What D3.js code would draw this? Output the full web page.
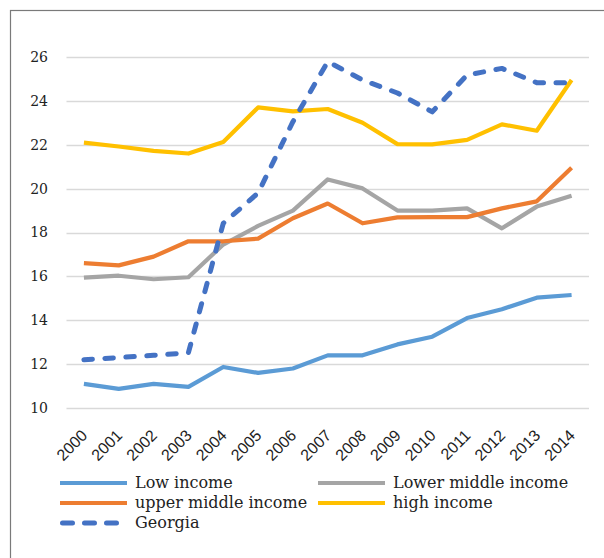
<!DOCTYPE html>
<html>
<head>
<meta charset="utf-8">
<script src="https://cdn.jsdelivr.net/npm/d3@7"></script>
<style>
  html, body { margin: 0; padding: 0; background: #fff; }
  svg { display: block; }
  text { font-family: "DejaVu Serif", serif; fill: #222; }
  .x-axis text { font-family: "Liberation Sans", Arial, sans-serif; }
</style>
</head>
<body>
<svg id="chart" width="604" height="558"></svg>
<script>
// Years on the horizontal axis
const years = ["2000","2001","2002","2003","2004","2005","2006","2007","2008","2009","2010","2011","2012","2013","2014"];

// Series values, one per year
const lowIncome         = [11.1, 10.87, 11.1, 10.96, 11.87, 11.6, 11.8, 12.4, 12.4, 12.9, 13.25, 14.1, 14.5, 15.03, 15.15];
const lowerMiddleIncome = [15.94, 16.03, 15.87, 15.96, 17.45, 18.3, 19.0, 20.42, 20.01, 19.0, 19.0, 19.1, 18.19, 19.18, 19.68];
const upperMiddleIncome = [16.6, 16.5, 16.9, 17.6, 17.6, 17.72, 18.65, 19.32, 18.42, 18.69, 18.7, 18.7, 19.1, 19.42, 20.95];
const highIncome        = [22.1, 21.92, 21.72, 21.6, 22.13, 23.7, 23.52, 23.63, 23.0, 22.03, 22.02, 22.22, 22.93, 22.64, 24.95];
const georgia           = [12.2, 12.3, 12.4, 12.52, 18.42, 19.8, 23.05, 25.79, 24.95, 24.36, 23.5, 25.18, 25.48, 24.83, 24.83];

const yTicks = [10, 12, 14, 16, 18, 20, 22, 24, 26];

const series = [
  { name: "Low income",          values: lowIncome,         color: "#5B9BD5", dashed: false },
  { name: "Lower middle income", values: lowerMiddleIncome, color: "#A5A5A5", dashed: false },
  { name: "upper middle income", values: upperMiddleIncome, color: "#ED7D31", dashed: false },
  { name: "high income",         values: highIncome,        color: "#FFC000", dashed: false },
  { name: "Georgia",             values: georgia,           color: "#4472C4", dashed: true }
];

const svg = d3.select("#chart");

// Chart frame (runs off the right and bottom edges)
svg.append("rect")
  .attr("x", 10.5).attr("y", 10.5)
  .attr("width", 640).attr("height", 600)
  .attr("fill", "none")
  .attr("stroke", "#7a7a7a")
  .attr("stroke-width", 1.2);

const x = d3.scaleBand().domain(years).range([66.5, 589]);
const y = d3.scaleLinear().domain([10, 26]).range([408, 57]);

// Horizontal gridlines
svg.append("g")
  .selectAll("line")
  .data(yTicks)
  .join("line")
  .attr("x1", x.range()[0]).attr("x2", x.range()[1])
  .attr("y1", d => Math.round(y(d)) + 0.5).attr("y2", d => Math.round(y(d)) + 0.5)
  .attr("stroke", "#d9d9d9")
  .attr("stroke-width", 1.3);

// Y axis labels
const yAxis = d3.axisLeft(y).tickValues(yTicks).tickSize(0).tickPadding(0);
const gy = svg.append("g").attr("transform", "translate(48,0)").call(yAxis);
gy.select(".domain").remove();
gy.selectAll("text")
  .style("font-size", "14px")
  .attr("fill", "#222");

// X axis labels, rotated
const xAxis = d3.axisBottom(x).tickSize(0).tickPadding(0);
const gx = svg.append("g").attr("class", "x-axis").attr("transform", "translate(0,408)").call(xAxis);
gx.select(".domain").remove();
gx.selectAll("text")
  .style("font-size", "16px")
  .attr("fill", "#222")
  .attr("text-anchor", "end")
  .attr("dy", null)
  .attr("y", 0)
  .attr("dominant-baseline", "middle")
  .attr("transform", "translate(1.5,25.5) rotate(-45)");

// Series lines
const line = d3.line()
  .x((d, i) => x(years[i]) + x.bandwidth() / 2)
  .y(d => y(d));

svg.append("g")
  .selectAll("path")
  .data(series)
  .join("path")
  .attr("d", d => line(d.values))
  .attr("fill", "none")
  .attr("stroke", d => d.color)
  .attr("stroke-width", d => d.dashed ? 5 : 4.2)
  .attr("stroke-linejoin", "round")
  .attr("stroke-linecap", d => d.dashed ? "round" : "butt")
  .attr("stroke-dasharray", d => d.dashed ? "8.5,12.5" : null);

// Legend
const legendPos = [
  { sx: 60, ty: 483 }, { sx: 318, ty: 483 },
  { sx: 60, ty: 503 }, { sx: 318, ty: 503 },
  { sx: 60, ty: 523 }
];
const legend = svg.append("g");
series.forEach((s, i) => {
  const p = legendPos[i];
  const g = legend.append("g").attr("transform", `translate(${p.sx},${p.ty})`);
  if (s.dashed) {
    g.append("line")
      .attr("x1", 2.5).attr("x2", 64).attr("y1", 0).attr("y2", 0)
      .attr("stroke", s.color).attr("stroke-width", 5)
      .attr("stroke-linecap", "round")
      .attr("stroke-dasharray", "10,12");
  } else {
    g.append("line")
      .attr("x1", 0).attr("x2", 67).attr("y1", 0).attr("y2", 0)
      .attr("stroke", s.color).attr("stroke-width", 4.2);
  }
  g.append("text")
    .attr("x", 75).attr("y", 0)
    .attr("dominant-baseline", "middle")
    .style("font-size", "16px")
    .text(s.name);
});
</script>
</body>
</html>
